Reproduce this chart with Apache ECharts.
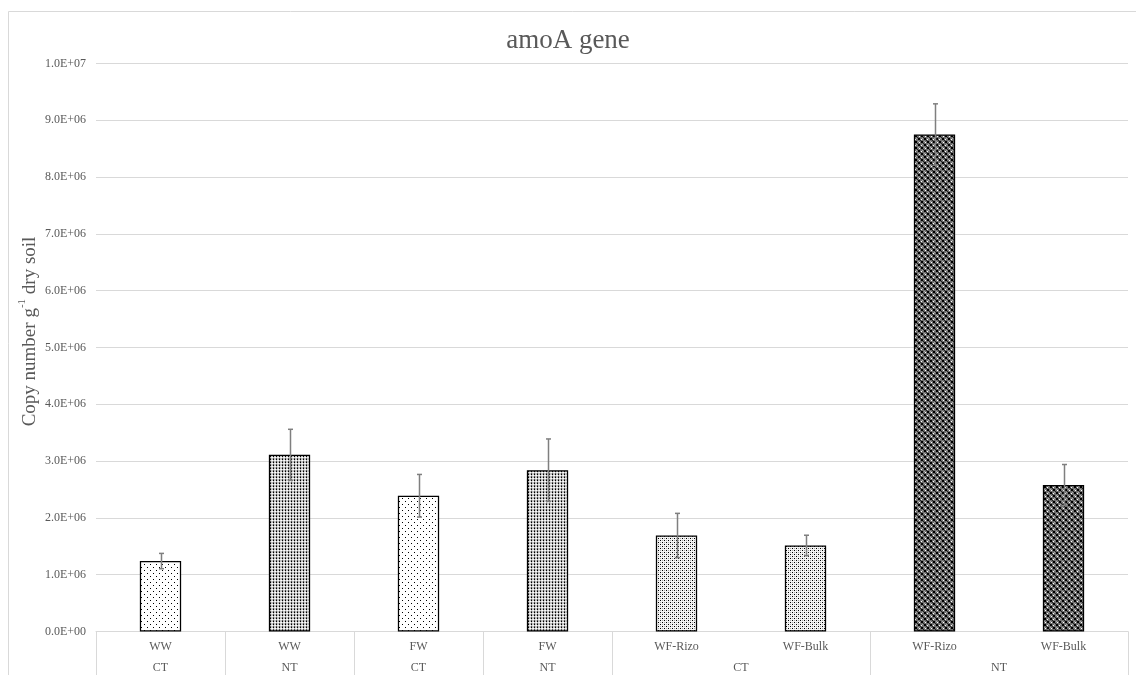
<!DOCTYPE html>
<html>
<head>
<meta charset="utf-8">
<script src="https://cdn.jsdelivr.net/npm/echarts@6/dist/echarts.min.js"></script>
<style>
html,body{margin:0;padding:0;background:#fff;}
#chart{width:1136px;height:675px;}
</style>
</head>
<body>
<div id="chart"></div>
<script>
// ---- data ----
var innerLabels = ['WW', 'WW', 'FW', 'FW', 'WF-Rizo', 'WF-Bulk', 'WF-Rizo', 'WF-Bulk'];
var outerLabels = ['CT', 'NT', 'CT', 'NT', 'CT', 'NT'];
var outerSpans = [1, 1, 1, 1, 2, 2];
var means = [1.24e6, 3.11e6, 2.39e6, 2.84e6, 1.69e6, 1.515e6, 8.75e6, 2.58e6];
var errors = [0.135e6, 0.45e6, 0.375e6, 0.55e6, 0.39e6, 0.18e6, 0.54e6, 0.36e6];
var titleText = 'amoA gene';

// ---- styles ----
var FONT = "'Liberation Serif', 'Times New Roman', serif";
var TXT = '#595959';
var GRID = '#d9d9d9';

function makeTile(w, h, bg, pixels) {
  var c = document.createElement('canvas');
  c.width = w; c.height = h;
  var ctx = c.getContext('2d');
  ctx.fillStyle = bg; ctx.fillRect(0, 0, w, h);
  pixels.forEach(function (p) { ctx.fillStyle = p[2]; ctx.fillRect(p[0], p[1], p[3] || 1, p[4] || 1); });
  return c;
}
var K = '#000000', W = '#ffffff';
var tiles = {
  sparse: makeTile(6, 6, '#ffffff', [[0, 0, K], [3, 3, K]]),
  dense: makeTile(3, 3, '#c4c4c4', [[0, 0, K], [0, 2, '#555'], [2, 1, W], [1, 1, '#eee']]),
  light: makeTile(4, 4, '#f4f4f4', [[0, 0, K], [2, 2, K], [2, 0, '#aaa'], [0, 2, '#aaa']]),
  dark: makeTile(6, 6, '#6f6f6f', [[0, 0, K, 2, 2], [3, 3, K, 2, 2], [3, 1, W], [1, 4, W], [4, 0, '#aaa'], [0, 3, '#aaa'], [2, 2, '#222'], [5, 5, '#222']])
};
var patternKeys = ['sparse', 'dense', 'sparse', 'dense', 'light', 'light', 'dark', 'dark'];

var barData = means.map(function (v, i) {
  return { value: v, itemStyle: { color: { image: tiles[patternKeys[i]], repeat: 'repeat' } } };
});
var errData = means.map(function (v, i) { return [i, v - errors[i], v + errors[i]]; });

// outer label positions (centres of spans) and boundaries
var outerPos = [], bounds = [0], acc = 0;
outerSpans.forEach(function (s) { outerPos.push(acc + s / 2); acc += s; bounds.push(acc); });

function sci(v) {
  if (v === 0) return '0.0E+00';
  var e = Math.floor(Math.log10(Math.abs(v)) + 1e-9);
  var m = v / Math.pow(10, e);
  return m.toFixed(1) + 'E' + (e >= 0 ? '+' : '-') + (Math.abs(e) < 10 ? '0' : '') + Math.abs(e);
}

var chart = echarts.init(document.getElementById('chart'), null, { renderer: 'canvas' });
chart.setOption({
  backgroundColor: '#ffffff',
  animation: false,
  title: {
    text: titleText, left: 'center', top: 22,
    textStyle: { fontFamily: FONT, fontSize: 27, fontWeight: 'normal', color: TXT }
  },
  graphic: [{
    type: 'rect', shape: { x: 8.5, y: 11.5, width: 1140, height: 700 },
    style: { fill: 'none', stroke: GRID, lineWidth: 1 }, silent: true, z: -10
  }],
  grid: { left: 96, right: 8, top: 63.5, bottom: 43.5, containLabel: false },
  xAxis: [{
    type: 'category', data: innerLabels, boundaryGap: true,
    axisLine: { show: true, lineStyle: { color: GRID, width: 1 } },
    axisTick: { show: false },
    axisLabel: { margin: 9, color: TXT, fontFamily: FONT, fontSize: 12 },
    splitLine: { show: false }
  }, {
    type: 'value', min: 0, max: innerLabels.length, position: 'bottom', offset: 0,
    axisLine: { show: false },
    splitLine: { show: false },
    axisTick: { show: true, customValues: bounds, length: 50, inside: false, lineStyle: { color: GRID, width: 1 } },
    axisLabel: {
      show: true, customValues: outerPos, margin: 30, color: TXT, fontFamily: FONT, fontSize: 12,
      formatter: function (v) { var i = outerPos.indexOf(v); return i >= 0 ? outerLabels[i] : ''; }
    }
  }],
  yAxis: {
    type: 'value', min: 0, max: 1e7, interval: 1e6,
    name: '{a|Copy number g}{s|-1}{a| dry soil}', nameLocation: 'middle', nameRotate: 90, nameGap: 56,
    nameMoveOverlap: false,
    nameTextStyle: {
      padding: [0, 0, 0, 32],
      rich: {
        a: { fontFamily: FONT, fontSize: 19, color: TXT, lineHeight: 23, verticalAlign: 'bottom' },
        s: { fontFamily: FONT, fontSize: 11, color: TXT, lineHeight: 23, verticalAlign: 'top' }
      }
    },
    axisLine: { show: false }, axisTick: { show: false },
    axisLabel: { margin: 10, color: TXT, fontFamily: FONT, fontSize: 12, formatter: sci },
    splitLine: { show: true, lineStyle: { color: GRID, width: 1 } }
  },
  series: [{
    type: 'bar', data: barData, barWidth: '32%', xAxisIndex: 0,
    itemStyle: { borderColor: '#000', borderWidth: 1.25 }
  }, {
    type: 'custom', xAxisIndex: 0, yAxisIndex: 0, data: errData, z: 10,
    encode: { x: 0, y: [1, 2] },
    renderItem: function (params, api) {
      var lo = api.coord([api.value(0), api.value(1)]);
      var hi = api.coord([api.value(0), api.value(2)]);
      var x = Math.round(hi[0]) + 0.5, cw = 2.5;
      var st = { stroke: '#7f7f7f', lineWidth: 1.5 };
      return { type: 'group', children: [
        { type: 'line', shape: { x1: x, y1: hi[1], x2: x, y2: lo[1] }, style: st },
        { type: 'line', shape: { x1: x - cw, y1: hi[1], x2: x + cw, y2: hi[1] }, style: st },
        { type: 'line', shape: { x1: x - cw, y1: lo[1], x2: x + cw, y2: lo[1] }, style: st }
      ] };
    }
  }]
});
</script>
</body>
</html>
